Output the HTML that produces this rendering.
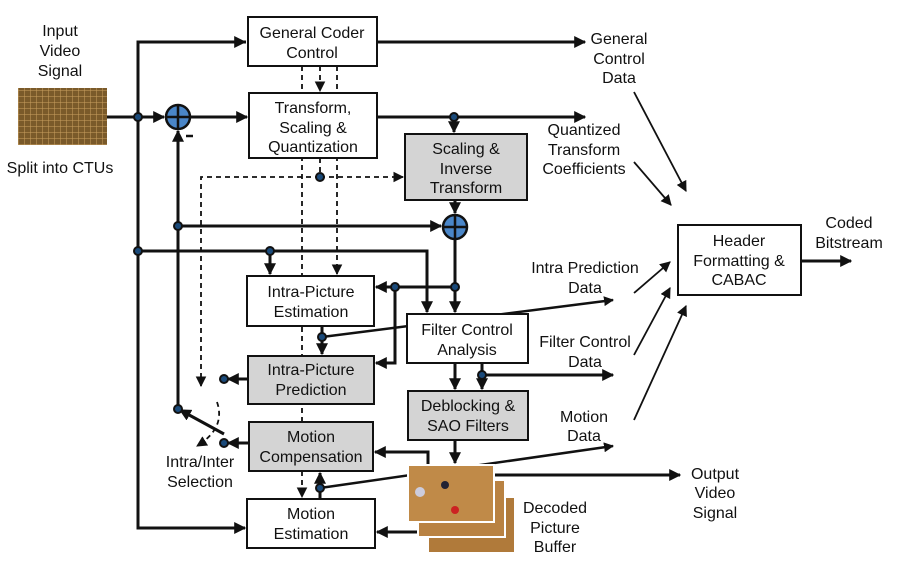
<!DOCTYPE html>
<html><head><meta charset="utf-8"><style>
body{margin:0;background:#fff}
svg text{font-family:"Liberation Sans",Arial,sans-serif;font-size:16px;fill:#111;text-anchor:middle}
</style></head><body>
<svg width="900" height="565" viewBox="0 0 900 565" xmlns="http://www.w3.org/2000/svg">
<defs>
<marker id="a" viewBox="0 0 10 10" refX="9" refY="5" markerWidth="4" markerHeight="4" orient="auto-start-reverse"><path d="M0,0L10,5L0,10z" fill="#111"/></marker>
<marker id="b" viewBox="0 0 10 10" refX="9" refY="5" markerWidth="6" markerHeight="6" orient="auto"><path d="M0,0L10,5L0,10z" fill="#111"/></marker>
<pattern id="g" width="6" height="6" patternUnits="userSpaceOnUse"><rect width="6" height="6" fill="#7a5a2a"/><path d="M0,0H6M0,0V6" stroke="#c9a060" stroke-width="1"/></pattern>
</defs>
<g stroke="#111" stroke-width="3" fill="none">
<line x1="107" y1="117" x2="164" y2="117" marker-end="url(#a)"/>
<polyline points="246,42 138,42 138,528 245,528" />
<line x1="138" y1="42" x2="245" y2="42" marker-end="url(#a)"/>
<line x1="138" y1="528" x2="245" y2="528" marker-end="url(#a)"/>
<polyline points="138,251 427,251 427,312" marker-end="url(#a)"/>
<line x1="270" y1="251" x2="270" y2="274" marker-end="url(#a)"/>
<line x1="190" y1="117" x2="247" y2="117" marker-end="url(#a)"/>
<line x1="178" y1="409" x2="178" y2="131" marker-end="url(#a)"/>
<line x1="178" y1="226" x2="441" y2="226" marker-end="url(#a)"/>
<line x1="377" y1="42" x2="585" y2="42" marker-end="url(#a)"/>
<line x1="377" y1="117" x2="585" y2="117" marker-end="url(#a)"/>
<line x1="454" y1="117" x2="454" y2="132" marker-end="url(#a)"/>
<line x1="455" y1="200" x2="455" y2="213" marker-end="url(#a)"/>
<line x1="455" y1="239" x2="455" y2="312" marker-end="url(#a)"/>
<line x1="455" y1="287" x2="376" y2="287" marker-end="url(#a)"/>
<polyline points="395,287 395,363 376,363" marker-end="url(#a)"/>
<line x1="322" y1="337" x2="613" y2="300" marker-end="url(#a)" stroke-width="2.5"/>
<line x1="322" y1="326" x2="322" y2="354" marker-end="url(#a)"/>
<line x1="455" y1="363" x2="455" y2="389" marker-end="url(#a)"/>
<line x1="482" y1="363" x2="482" y2="389" marker-end="url(#a)"/>
<line x1="482" y1="375" x2="613" y2="375" marker-end="url(#a)"/>
<line x1="455" y1="440" x2="455" y2="463" marker-end="url(#a)"/>
<line x1="320" y1="488" x2="613" y2="446" marker-end="url(#a)" stroke-width="2.5"/>
<line x1="320" y1="499" x2="320" y2="473" marker-end="url(#a)"/>
<polyline points="428,466 428,452 375,452" marker-end="url(#a)"/>
<line x1="418" y1="532" x2="377" y2="532" marker-end="url(#a)"/>
<line x1="495" y1="475" x2="680" y2="475" marker-end="url(#a)"/>
<line x1="248" y1="379" x2="228" y2="379" marker-end="url(#a)"/>
<line x1="249" y1="443" x2="228" y2="443" marker-end="url(#a)"/>
<line x1="224" y1="434" x2="180" y2="410" marker-end="url(#a)"/>
<line x1="801" y1="261" x2="851" y2="261" marker-end="url(#a)"/>
</g>
<g stroke="#111" stroke-width="1.8" fill="none">
<line x1="634" y1="92" x2="686" y2="191" marker-end="url(#b)"/>
<line x1="634" y1="162" x2="671" y2="205" marker-end="url(#b)"/>
<line x1="634" y1="293" x2="670" y2="262" marker-end="url(#b)"/>
<line x1="634" y1="355" x2="670" y2="288" marker-end="url(#b)"/>
<line x1="634" y1="420" x2="686" y2="306" marker-end="url(#b)"/>
</g>
<g stroke="#111" stroke-width="1.8" fill="none" stroke-dasharray="5,4">
<line x1="302" y1="66" x2="302" y2="497" marker-end="url(#b)"/>
<line x1="320" y1="66" x2="320" y2="91" marker-end="url(#b)"/>
<line x1="337" y1="66" x2="337" y2="274" marker-end="url(#b)"/>
<line x1="320" y1="158" x2="320" y2="177"/>
<line x1="320" y1="177" x2="403" y2="177" marker-end="url(#b)"/>
<polyline points="320,177 201,177 201,386" marker-end="url(#b)"/>
<path d="M217,402 Q226,428 197,446" marker-end="url(#b)"/>
</g>
<g stroke="#111" stroke-width="2">
<rect x="248" y="17" width="129" height="49" fill="#fff"/>
<rect x="249" y="93" width="128" height="65" fill="#fff"/>
<rect x="405" y="134" width="122" height="66" fill="#d4d4d4"/>
<rect x="678" y="225" width="123" height="70" fill="#fff"/>
<rect x="247" y="276" width="127" height="50" fill="#fff"/>
<rect x="407" y="314" width="121" height="49" fill="#fff"/>
<rect x="248" y="356" width="126" height="48" fill="#d4d4d4"/>
<rect x="408" y="391" width="120" height="49" fill="#d4d4d4"/>
<rect x="249" y="422" width="124" height="49" fill="#d4d4d4"/>
<rect x="247" y="499" width="128" height="49" fill="#fff"/>
</g>
<rect x="428" y="497" width="87" height="56" fill="#b07a3a" stroke="#fff" stroke-width="2"/>
<rect x="418" y="480" width="87" height="57" fill="#b98242" stroke="#fff" stroke-width="2"/>
<rect x="408" y="465" width="86" height="57" fill="#c08a48" stroke="#fff" stroke-width="2"/>
<circle cx="420" cy="492" r="5" fill="#ccd"/><circle cx="455" cy="510" r="4" fill="#c22"/><circle cx="445" cy="485" r="4" fill="#223"/>
<rect x="18" y="88" width="89" height="57" fill="url(#g)"/>
<g stroke="#111" stroke-width="2.5" fill="#4a86c8">
<circle cx="178" cy="117" r="12"/><circle cx="455" cy="227" r="12"/>
</g>
<g stroke="#111" stroke-width="2.5">
<line x1="166" y1="117" x2="190" y2="117"/><line x1="178" y1="105" x2="178" y2="129"/>
<line x1="443" y1="227" x2="467" y2="227"/><line x1="455" y1="215" x2="455" y2="239"/>
<line x1="186" y1="136" x2="193" y2="136"/>
</g>
<g fill="#1a4a7a" stroke="#111" stroke-width="2">
<circle cx="138" cy="117" r="4"/><circle cx="138" cy="251" r="4"/><circle cx="178" cy="226" r="4"/>
<circle cx="270" cy="251" r="4"/><circle cx="320" cy="177" r="4"/><circle cx="454" cy="117" r="4"/>
<circle cx="455" cy="287" r="4"/><circle cx="395" cy="287" r="4"/><circle cx="322" cy="337" r="4"/>
<circle cx="482" cy="375" r="4"/><circle cx="320" cy="488" r="4"/><circle cx="224" cy="379" r="4"/>
<circle cx="224" cy="443" r="4"/><circle cx="178" cy="409" r="4"/>
</g>
<text x="60" y="36">Input</text><text x="60" y="56">Video</text><text x="60" y="76">Signal</text>
<text x="60" y="173">Split into CTUs</text>
<text x="312" y="38">General Coder</text><text x="312" y="58">Control</text>
<text x="313" y="113">Transform,</text><text x="313" y="133">Scaling &amp;</text><text x="313" y="152">Quantization</text>
<text x="466" y="154">Scaling &amp;</text><text x="466" y="174">Inverse</text><text x="466" y="193">Transform</text>
<text x="619" y="44">General</text><text x="619" y="64">Control</text><text x="619" y="83">Data</text>
<text x="584" y="135">Quantized</text><text x="584" y="155">Transform</text><text x="584" y="174">Coefficients</text>
<text x="849" y="228">Coded</text><text x="849" y="248">Bitstream</text>
<text x="739" y="246">Header</text><text x="739" y="266">Formatting &amp;</text><text x="739" y="285">CABAC</text>
<text x="585" y="273">Intra Prediction</text><text x="585" y="293">Data</text>
<text x="311" y="297">Intra-Picture</text><text x="311" y="317">Estimation</text>
<text x="467" y="335">Filter Control</text><text x="467" y="355">Analysis</text>
<text x="585" y="347">Filter Control</text><text x="585" y="367">Data</text>
<text x="311" y="375">Intra-Picture</text><text x="311" y="395">Prediction</text>
<text x="468" y="411">Deblocking &amp;</text><text x="468" y="431">SAO Filters</text>
<text x="584" y="422">Motion</text><text x="584" y="441">Data</text>
<text x="311" y="442">Motion</text><text x="311" y="462">Compensation</text>
<text x="200" y="467">Intra/Inter</text><text x="200" y="487">Selection</text>
<text x="715" y="479">Output</text><text x="715" y="498">Video</text><text x="715" y="518">Signal</text>
<text x="555" y="513">Decoded</text><text x="555" y="533">Picture</text><text x="555" y="552">Buffer</text>
<text x="311" y="519">Motion</text><text x="311" y="539">Estimation</text>
</svg>
</body></html>
